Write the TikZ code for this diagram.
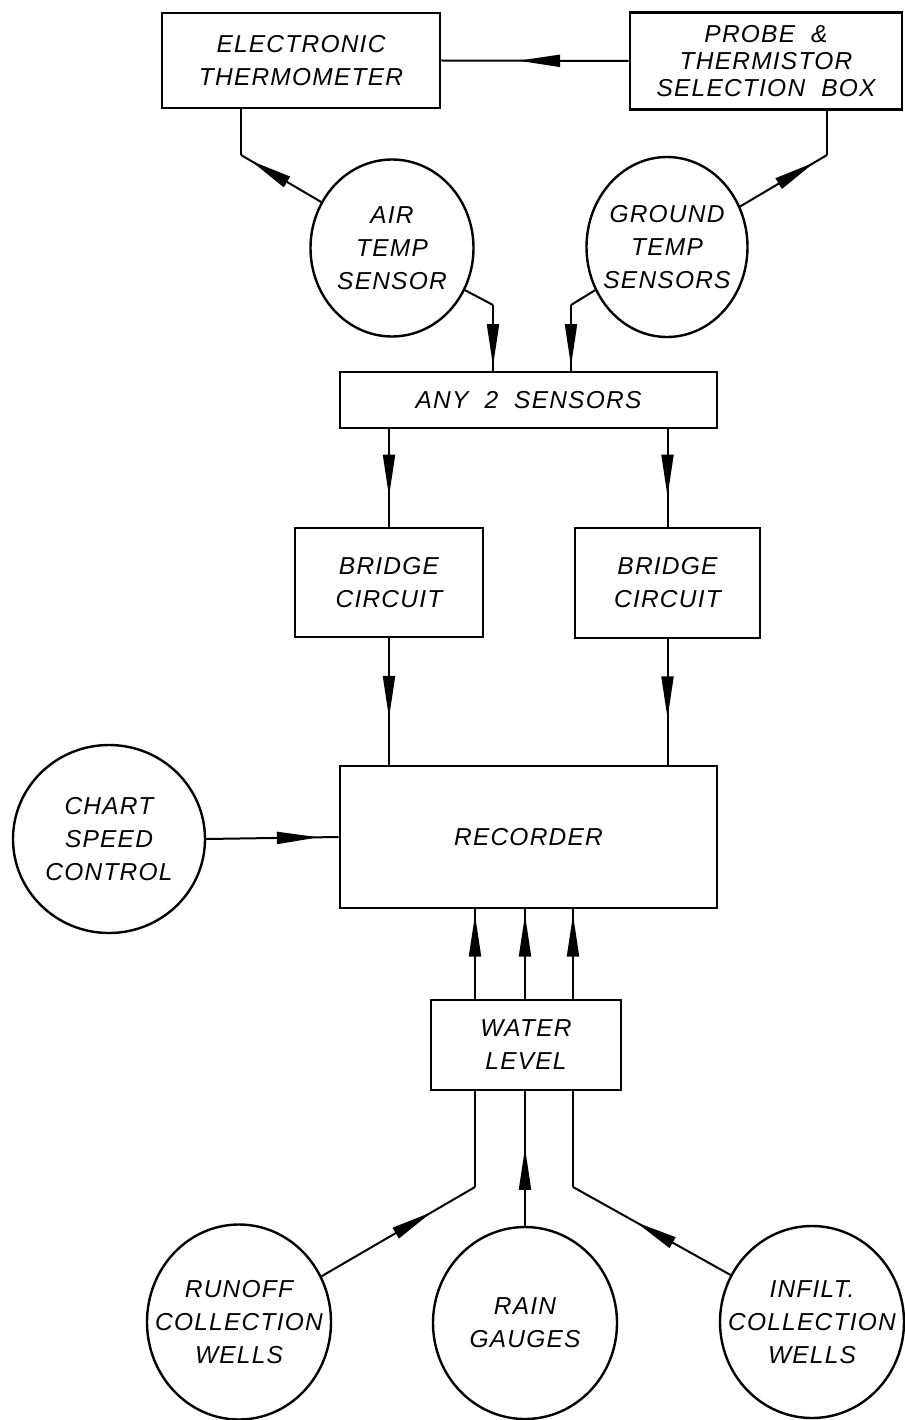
\documentclass[tikz,border=0pt]{standalone}
\usepackage{fontspec}
\newfontfamily\lett{Liberation Sans}[LetterSpace=5]
\usetikzlibrary{arrows.meta,decorations.markings,shapes.geometric}
\begin{document}
\begin{tikzpicture}[x=1pt,y=-1pt,
  txt/.style={font=\lett\itshape\fontsize{24.5}{33}\selectfont, align=center},
  box/.style={draw, line width=2.6pt, rectangle, inner sep=0pt, txt},
  circ/.style={draw, line width=2.4pt, ellipse, inner sep=0pt},
  lbl/.style={txt},
  conn/.style={line width=2pt},
  arrowat/.style={postaction={decorate}, decoration={markings, mark=at position #1 with {\arrow{Triangle[length=42pt,width=12pt]}}}},
]
\useasboundingbox (0,0) rectangle (904,1420);
\fill[white] (0,0) rectangle (904,1420);

% boxes
\node[box, minimum width=278pt, minimum height=95pt] (therm) at (301,60.5) {ELECTRONIC\\THERMOMETER};
\node[box, minimum width=272pt, minimum height=97pt, font=\lett\itshape\fontsize{24.5}{27}\selectfont] (probe) at (766,61) {PROBE \ \&\\THERMISTOR\\SELECTION \ BOX};
\node[box, minimum width=377pt, minimum height=56pt] (any2) at (528.5,400) {ANY \ 2 \ SENSORS};
\node[box, minimum width=188pt, minimum height=109pt] (br1) at (389,582.5) {BRIDGE\\CIRCUIT};
\node[box, minimum width=185pt, minimum height=110pt] (br2) at (667.5,583) {BRIDGE\\CIRCUIT};
\node[box, minimum width=377pt, minimum height=142pt] (rec) at (528.5,837) {RECORDER};
\node[box, minimum width=190pt, minimum height=90pt] (water) at (526,1045) {WATER\\LEVEL};

% circles
\node[circ, minimum width=163pt, minimum height=177pt, label={[lbl]center:AIR\\TEMP\\SENSOR}] (air) at (392,248) {};
\node[circ, minimum width=161pt, minimum height=180pt, label={[lbl]center:GROUND\\TEMP\\SENSORS}] (ground) at (667,247) {};
\node[circ, minimum width=192pt, minimum height=188pt, label={[lbl]center:CHART\\SPEED\\CONTROL}] (chart) at (109,839) {};
\node[circ, minimum width=184pt, minimum height=195pt, label={[lbl]center:RUNOFF\\COLLECTION\\WELLS}] (runoff) at (239,1322) {};
\node[circ, minimum width=184pt, minimum height=192pt, label={[lbl]center:RAIN\\GAUGES}] (rain) at (525,1323) {};
\node[circ, minimum width=184pt, minimum height=192pt, label={[lbl]center:INFILT.\\COLLECTION\\WELLS}] (infilt) at (812,1322) {};

% bend points
\coordinate (b1) at (241,155);
\coordinate (b2) at (827,155);
\coordinate (b3) at (493,305);
\coordinate (b4) at (571,305);
\coordinate (wl) at (475,1187);
\coordinate (wm) at (525,1187);
\coordinate (wr) at (573,1187);

% top connectors
\draw[conn, arrowat=0.59] (probe.west) -- (therm.east);
\draw[conn] (therm.south -| b1) -- (b1);
\draw[conn, arrowat=0.88] (air.147) -- (b1);
\draw[conn] (probe.south -| b2) -- (b2);
\draw[conn, arrowat=0.86] (ground.29) -- (b2);

% sensors to selector
\draw[conn] (air.-30) -- (b3);
\draw[conn, arrowat=0.93] (b3) -- (b3 |- any2.north);
\draw[conn] (ground.211) -- (b4);
\draw[conn, arrowat=0.93] (b4) -- (b4 |- any2.north);

% selector to bridges
\draw[conn, arrowat=0.69] (br1.north |- any2.south) -- (br1.north);
\draw[conn, arrowat=0.69] (br2.north |- any2.south) -- (br2.north);

% bridges to recorder
\draw[conn, arrowat=0.63] (br1.south) -- (br1.south |- rec.north);
\draw[conn, arrowat=0.63] (br2.south) -- (br2.south |- rec.north);

% chart speed
\draw[conn, arrowat=0.85] (chart.east) -- (rec.west);

% water level to recorder
\draw[conn, arrowat=0.94] (wl |- water.north) -- (wl |- rec.south);
\draw[conn, arrowat=0.94] (wm |- water.north) -- (wm |- rec.south);
\draw[conn, arrowat=0.94] (wr |- water.north) -- (wr |- rec.south);

% sources to water level
\draw[conn, arrowat=0.72] (runoff.29) -- (wl);
\draw[conn] (wl) -- (wl |- water.south);
\draw[conn, arrowat=0.58] (rain.north) -- (rain.north |- water.south);
\draw[conn, arrowat=0.6] (infilt.150) -- (wr);
\draw[conn] (wr) -- (wr |- water.south);
\end{tikzpicture}
\end{document}
